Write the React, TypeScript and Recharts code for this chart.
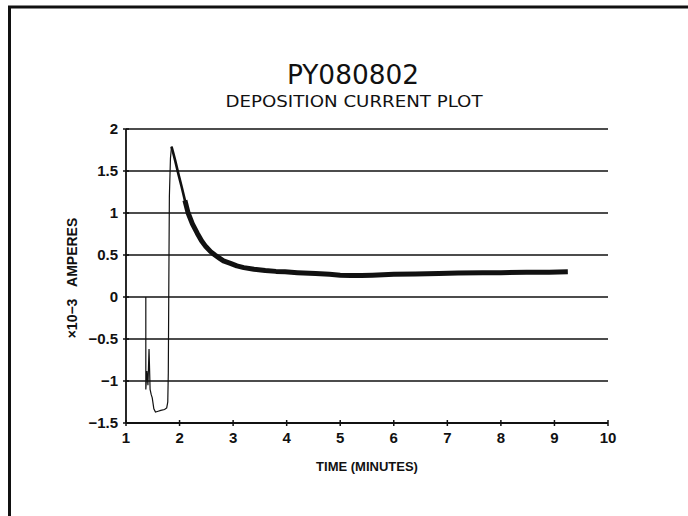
import { LineChart, Line, XAxis, YAxis, CartesianGrid } from 'recharts'

// deposition current trace, time in minutes, current in mA (x10-3 A)
const startupTime = [1.37, 1.37, 1.39, 1.41, 1.43, 1.44, 1.45, 1.47, 1.49, 1.52, 1.55, 1.6, 1.65, 1.72, 1.76, 1.78, 1.79, 1.8, 1.81, 1.83, 1.85]
const startupCurrent = [0, -1.1, -0.88, -1.05, -0.62, -0.85, -1.1, -1.16, -1.2, -1.33, -1.37, -1.36, -1.35, -1.34, -1.32, -1.25, -0.9, 0.2, 1.2, 1.65, 1.79]

// just after the peak the trace is still fairly clean
const peakTime = [1.85, 1.88, 1.92, 1.98, 2.04, 2.1, 2.16]
const peakCurrent = [1.79, 1.72, 1.62, 1.46, 1.31, 1.15, 1.0]

const decayTime = [2.1, 2.16, 2.24, 2.33, 2.41, 2.49, 2.58, 2.66, 2.75, 2.82, 2.95, 3.07, 3.2, 3.39, 3.6, 3.8, 3.97, 4.2, 4.54, 4.8, 5.0, 5.2, 5.4, 5.6, 5.8, 6.0, 6.4, 6.84, 7.2, 7.66, 8.0, 8.48, 8.9, 9.25]
const decayCurrent = [1.15, 1.0, 0.87, 0.76, 0.67, 0.6, 0.54, 0.5, 0.46, 0.43, 0.4, 0.37, 0.35, 0.33, 0.315, 0.305, 0.3, 0.29, 0.28, 0.27, 0.26, 0.255, 0.255, 0.26, 0.265, 0.27, 0.275, 0.28, 0.285, 0.29, 0.29, 0.295, 0.295, 0.3]

const xTicks = [1, 2, 3, 4, 5, 6, 7, 8, 9, 10]
const yTicks = [-1.5, -1, -0.5, 0, 0.5, 1, 1.5, 2]

const startup = startupTime.map((t, i) => ({ t, i: startupCurrent[i] }))
const peak = peakTime.map((t, i) => ({ t, i: peakCurrent[i] }))
const decay = decayTime.map((t, i) => ({ t, i: decayCurrent[i] }))

const ink = '#111'
const TICK = 6
const GAP = 2

function fmt(v: number) {
  return String(v).replace('-', '\u2212')
}

function YTick(props: any) {
  const { x, y, payload } = props
  const ax = x + TICK + GAP
  return (
    <g>
      <line x1={ax - 3} x2={ax + 3} y1={y} y2={y} stroke={ink} strokeWidth={1.5} />
      <text x={ax - 8} y={y} dy="0.36em" textAnchor="end" fill={ink}
        style={{ fontFamily: '"Liberation Sans Narrow", sans-serif', fontSize: 15, fontWeight: 700 }}>
        {fmt(payload.value)}
      </text>
    </g>
  )
}

function XTick(props: any) {
  const { x, y, payload } = props
  const ay = y - TICK - GAP
  return (
    <g>
      <line x1={x} x2={x} y1={ay - 3} y2={ay + 3} stroke={ink} strokeWidth={1.5} />
      <text x={x} y={ay + 9} dy="0.72em" textAnchor="middle" fill={ink}
        style={{ fontFamily: '"Liberation Sans Narrow", sans-serif', fontSize: 15, fontWeight: 700 }}>
        {payload.value}
      </text>
    </g>
  )
}

export default function App() {
  return (
    <div style={{ position: 'absolute', left: 0, top: 0, width: 688, height: 516, background: '#fff' }}>
      <LineChart width={688} height={516} margin={{ top: 129, right: 80, bottom: 63, left: 66 }}>
        <CartesianGrid vertical={false} stroke={ink} strokeWidth={1.6} horizontalValues={yTicks} />
        <XAxis type="number" dataKey="t" domain={[1, 10]} ticks={xTicks} height={30}
          tickLine={false} tick={<XTick />} axisLine={{ stroke: ink, strokeWidth: 1.8 }} />
        <XAxis xAxisId="top" orientation="top" type="number" dataKey="t" domain={[1, 10]} height={0}
          tick={false} tickLine={false} axisLine={{ stroke: ink, strokeWidth: 1.8 }} />
        <YAxis type="number" domain={[-1.5, 2]} ticks={yTicks} width={60}
          tickLine={false} tick={<YTick />} axisLine={{ stroke: ink, strokeWidth: 1.8 }} />
        <YAxis yAxisId="right" orientation="right" type="number" domain={[-1.5, 2]} width={0}
          tick={false} tickLine={false} axisLine={{ stroke: ink, strokeWidth: 1.8 }} />
        <Line data={startup} dataKey="i" type="linear" stroke={ink} strokeWidth={1.2}
          dot={false} isAnimationActive={false} />
        <Line data={peak} dataKey="i" type="linear" stroke={ink} strokeWidth={2.6}
          strokeLinejoin="round" dot={false} isAnimationActive={false} />
        <Line data={decay} dataKey="i" type="linear" stroke={ink} strokeWidth={5}
          strokeLinejoin="round" dot={false} isAnimationActive={false} />
      </LineChart>
      <svg width={688} height={516} style={{ position: 'absolute', left: 0, top: 0, pointerEvents: 'none' }}>
        <path d="M9.5 516 L9.5 7 L688 7" fill="none" stroke={ink} strokeWidth={3} />
        <text x={353} y={84} textAnchor="middle" fill={ink} textLength={132} lengthAdjust="spacingAndGlyphs"
          style={{ fontFamily: '"DejaVu Sans Condensed", sans-serif', fontSize: 27, fontWeight: 400 }}>
          PY080802
        </text>
        <text x={354} y={107} textAnchor="middle" fill={ink} textLength={257} lengthAdjust="spacingAndGlyphs"
          style={{ fontFamily: '"DejaVu Sans Condensed", sans-serif', fontSize: 16, fontWeight: 400 }}>
          DEPOSITION CURRENT PLOT
        </text>
        <text transform="translate(77 278) rotate(-90)" textAnchor="middle" fill={ink}
          style={{ fontFamily: '"Liberation Sans", sans-serif', fontSize: 14, fontWeight: 700 }}>
          {'×10−3\u00a0\u00a0\u00a0AMPERES'}
        </text>
        <text x={367} y={471} textAnchor="middle" fill={ink}
          style={{ fontFamily: '"Liberation Sans Narrow", sans-serif', fontSize: 13, fontWeight: 700 }}>
          TIME (MINUTES)
        </text>
      </svg>
    </div>
  )
}
